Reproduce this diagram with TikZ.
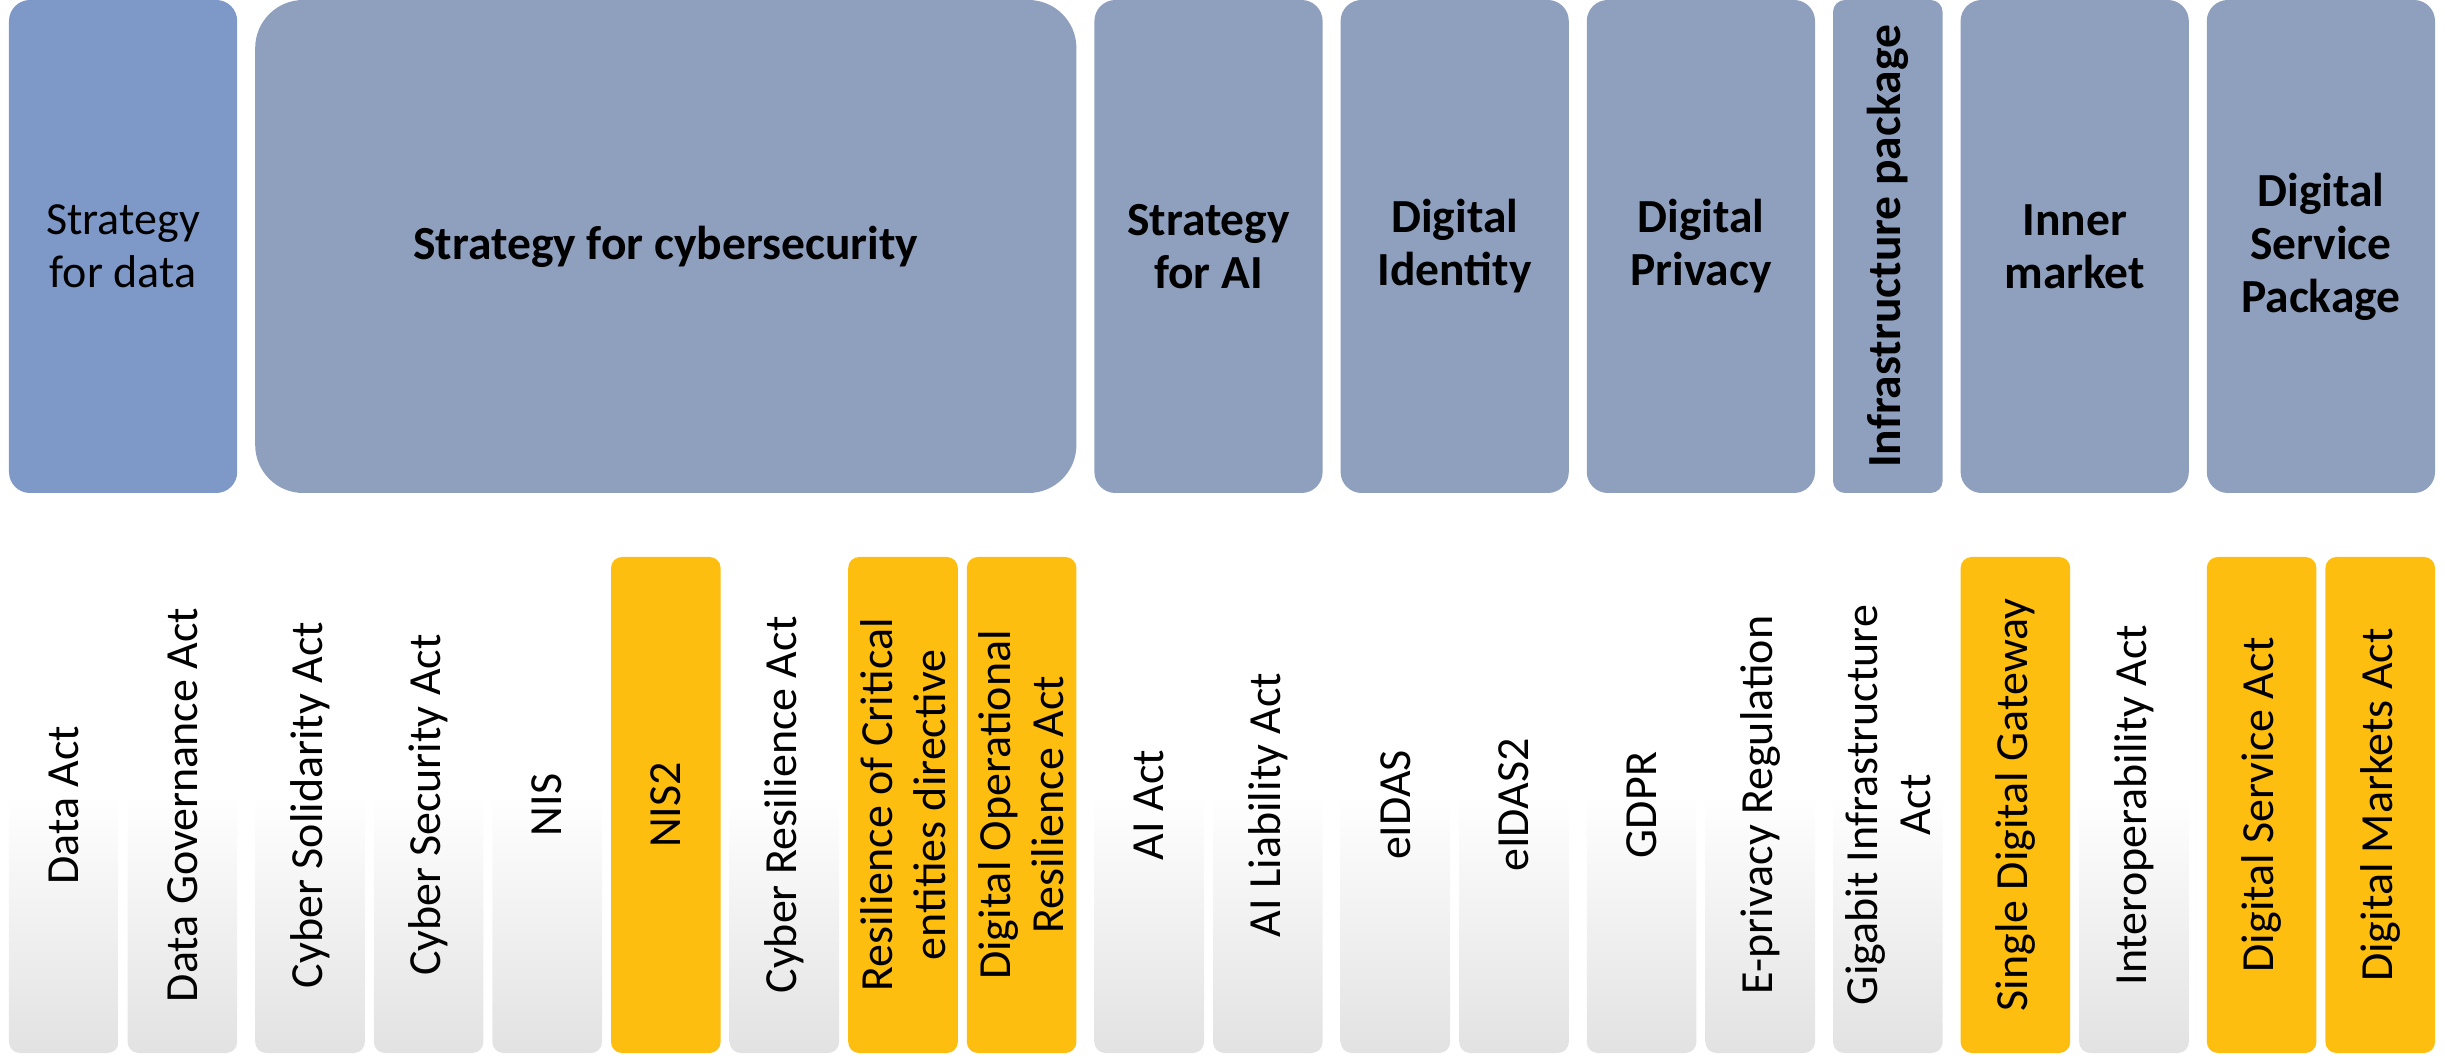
\documentclass[tikz,border=0pt]{standalone}
\usepackage{fontspec}
\setmainfont{Carlito}
\definecolor{datablue}{RGB}{126,152,200}
\definecolor{stratgray}{RGB}{143,160,190}
\definecolor{actgold}{RGB}{254,190,16}
\definecolor{colgray}{RGB}{226,226,226}
\pgfdeclareverticalshading{colshade}{100bp}{color(0bp)=(colgray); color(25bp)=(colgray); color(51bp)=(white); color(100bp)=(white)}
\tikzset{
  topbox/.style={fill=stratgray, text=black, align=center, inner sep=0pt,
    minimum height=493bp, rounded corners=21bp,
    font=\bfseries\fontsize{47.5bp}{53bp}\selectfont},
  widebox/.style={topbox, minimum width=228.2bp},
  col/.style={rotate=90, minimum width=496bp, minimum height=109.6bp,
    rounded corners=11bp, inner sep=0pt, align=center, text=black,
    font=\fontsize{46bp}{53bp}\selectfont},
  graycol/.style={col, shading=colshade, shading angle=0},
  goldcol/.style={col, fill=actgold}
}
\begin{document}
\begin{tikzpicture}[x=1bp,y=1bp]
\useasboundingbox (0,0) rectangle (2445,1055);
% top strategy boxes
\node[widebox, fill=datablue, font=\fontsize{46bp}{53bp}\selectfont] (sdata) at (123.1,808.5) {Strategy\\for data};
\node[topbox, minimum width=821.2bp, rounded corners=48bp] (scyber) at (665.8,808.5) {Strategy for cybersecurity};
\node[widebox] (sai) at (1208.5,808.5) {Strategy\\for AI};
\node[widebox] (sid) at (1454.7,808.5) {Digital\\Identity};
\node[widebox] (spriv) at (1700.9,808.5) {Digital\\Privacy};
\node[topbox, rotate=90, minimum height=109.6bp, minimum width=493bp, rounded corners=12bp] (sinfra) at (1887.8,808.5) {Infrastructure package};
\node[widebox] (sinner) at (2074.7,808.5) {Inner\\market};
\node[widebox] (sdsp) at (2320.9,808.5) {Digital\\Service\\Package};
% acts
\node[graycol] (a1) at (63.8,250) {Data Act};
\node[graycol] (a2) at (182.4,250) {Data Governance Act};
\node[graycol] (a3) at (310,250) {Cyber Solidarity Act};
\node[graycol] (a4) at (428.6,250) {Cyber Security Act};
\node[graycol] (a5) at (547.2,250) {NIS};
\node[goldcol] (a6) at (665.8,250) {NIS2};
\node[graycol] (a7) at (784.4,250) {Cyber Resilience Act};
\node[goldcol] (a8) at (903,250) {Resilience of Critical\\entities directive};
\node[goldcol] (a9) at (1021.6,250) {Digital Operational\\Resilience Act};
\node[graycol] (a10) at (1149.2,250) {AI Act};
\node[graycol] (a11) at (1267.8,250) {AI Liability Act};
\node[graycol] (a12) at (1395.4,250) {eIDAS};
\node[graycol] (a13) at (1514,250) {eIDAS2};
\node[graycol] (a14) at (1641.6,250) {GDPR};
\node[graycol] (a15) at (1760.2,250) {E-privacy Regulation};
\node[graycol] (a16) at (1887.8,250) {Gigabit Infrastructure\\Act};
\node[goldcol] (a17) at (2015.4,250) {Single Digital Gateway};
\node[graycol] (a18) at (2134,250) {Interoperability Act};
\node[goldcol] (a19) at (2261.6,250) {Digital Service Act};
\node[goldcol] (a20) at (2380.2,250) {Digital Markets Act};
\end{tikzpicture}
\end{document}
